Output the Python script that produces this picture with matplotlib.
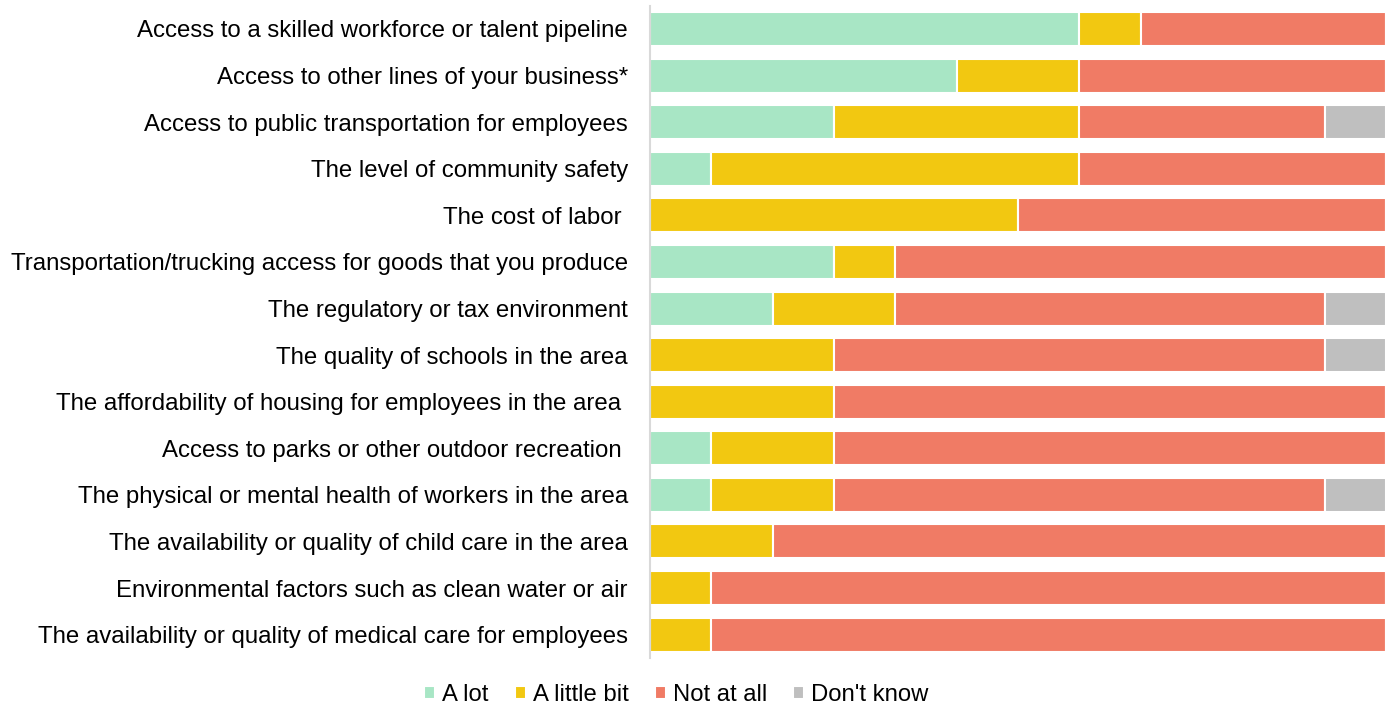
import numpy as np
import matplotlib.pyplot as plt

plt.rcParams['font.family'] = ['Liberation Sans', 'DejaVu Sans']

# share of respondents (out of 12) per answer
categories = [
    'Access to a skilled workforce or talent pipeline',
    'Access to other lines of your business*',
    'Access to public transportation for employees',
    'The level of community safety',
    'The cost of labor ',
    'Transportation/trucking access for goods that you produce',
    'The regulatory or tax environment',
    'The quality of schools in the area',
    'The affordability of housing for employees in the area ',
    'Access to parks or other outdoor recreation ',
    'The physical or mental health of workers in the area',
    'The availability or quality of child care in the area',
    'Environmental factors such as clean water or air',
    'The availability or quality of medical care for employees',
]
a_lot = [7, 5, 3, 1, 0, 3, 2, 0, 0, 1, 1, 0, 0, 0]
a_little = [1, 2, 4, 6, 6, 1, 2, 3, 3, 2, 2, 2, 1, 1]
not_at_all = [4, 5, 4, 5, 6, 8, 7, 8, 9, 9, 8, 10, 11, 11]
dont_know = [0, 0, 1, 0, 0, 0, 1, 1, 0, 0, 1, 0, 0, 0]

series = {'A lot': a_lot, 'A little bit': a_little,
          'Not at all': not_at_all, "Don't know": dont_know}
colors = ['#a8e6c5', '#f2c811', '#f07b65', '#bfbfbf']

fig = plt.figure(figsize=(13.93, 7.09), dpi=100)
ax = fig.add_axes([0.4666, 0.072, 0.995 - 0.4666, 0.92])

tot = np.array(a_lot) + np.array(a_little) + np.array(not_at_all) + np.array(dont_know)
y = np.arange(len(categories))
left = np.zeros(len(categories))
for (name, vals), c in zip(series.items(), colors):
    w = np.array(vals) / tot
    ax.barh(y, w, left=left, height=0.73, color=c, edgecolor='white', linewidth=1.5, label=name)
    left += w

ax.set_xlim(0, 1)
ax.set_ylim(len(categories) - 0.5, -0.5)
ax.set_yticks(y)
ax.set_yticklabels(categories, fontsize=17.3)
ax.tick_params(axis='y', length=0, pad=16)
ax.set_xticks([])
for s in ['top', 'right', 'bottom']:
    ax.spines[s].set_visible(False)
ax.spines['left'].set_color('#d9d9d9')
ax.spines['left'].set_linewidth(1.5)

fig.legend(loc='lower center', bbox_to_anchor=(0.4857, -0.0265), ncol=4, frameon=False,
           fontsize=17.2, handlelength=0.45, handleheight=0.45, handletextpad=0.3,
           columnspacing=1.1)

fig.savefig('out.png', dpi=100)
